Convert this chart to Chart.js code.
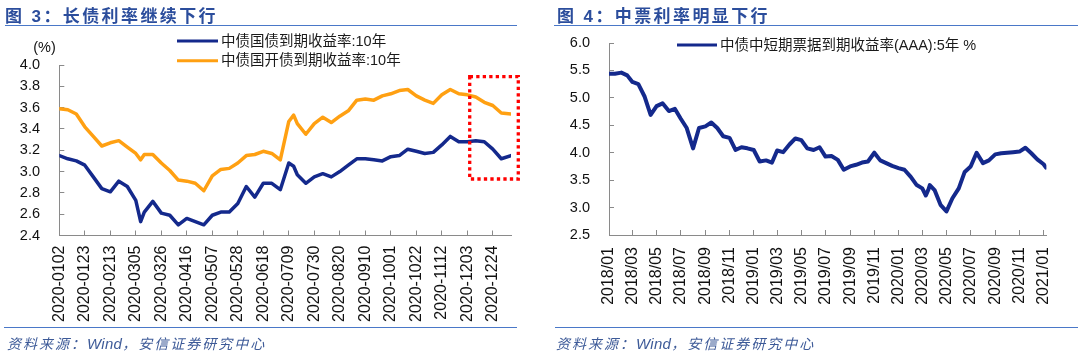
<!DOCTYPE html>
<html><head><meta charset="utf-8">
<script src="https://cdn.jsdelivr.net/npm/chart.js@4.4.1/dist/chart.umd.min.js"></script>
<style>
html,body{margin:0;padding:0;background:#fff;width:1080px;height:354px;overflow:hidden;}
canvas{position:absolute;top:0;}
.title{position:absolute;top:2px;font:bold 17px 'Liberation Sans','Noto Sans CJK SC',sans-serif;color:#2b4d9c;letter-spacing:2.4px;white-space:nowrap;}
.rule{position:absolute;height:0;border-top:1.6px solid #4a78c8;}
.src{position:absolute;top:333px;font:italic 14px 'Liberation Sans','Noto Sans CJK SC',sans-serif;color:#3d5a98;letter-spacing:2px;white-space:nowrap;}
.src span{letter-spacing:0.3px;font-size:15px;}
</style></head>
<body>
<canvas id="c1" width="540" height="354" style="left:0"></canvas>
<canvas id="c2" width="540" height="354" style="left:540px"></canvas>
<div class="title" style="left:5px">图 3：长债利率继续下行</div>
<div class="rule" style="left:5px;width:512px;top:25px"></div>
<div class="rule" style="left:4px;width:513px;top:327px"></div>
<div class="src" style="left:7px">资料来源：<span>Wind</span>，安信证券研究中心</div>
<div class="title" style="left:557px">图 4：中票利率明显下行</div>
<div class="rule" style="left:554px;width:524px;top:25px"></div>
<div class="rule" style="left:555px;width:523px;top:327px"></div>
<div class="src" style="left:556px">资料来源：<span>Wind</span>，安信证券研究中心</div>
<script>
// ---------- Figure 3 data ----------
const leftDates = ['2020-01-02','2020-01-09','2020-01-16','2020-01-23','2020-01-30','2020-02-06','2020-02-13','2020-02-20','2020-02-27','2020-03-05','2020-03-09','2020-03-12','2020-03-19','2020-03-26','2020-04-02','2020-04-09','2020-04-16','2020-04-23','2020-04-30','2020-05-07','2020-05-14','2020-05-21','2020-05-28','2020-06-04','2020-06-11','2020-06-18','2020-06-25','2020-07-02','2020-07-09','2020-07-13','2020-07-16','2020-07-23','2020-07-30','2020-08-06','2020-08-13','2020-08-20','2020-08-27','2020-09-03','2020-09-10','2020-09-17','2020-09-24','2020-10-01','2020-10-08','2020-10-15','2020-10-22','2020-10-29','2020-11-05','2020-11-12','2020-11-19','2020-11-26','2020-12-03','2020-12-10','2020-12-17','2020-12-24','2020-12-31','2021-01-08'];
const cgb10y = [3.15,3.12,3.10,3.06,2.95,2.84,2.81,2.91,2.86,2.73,2.53,2.62,2.72,2.61,2.59,2.50,2.56,2.53,2.50,2.59,2.62,2.62,2.70,2.86,2.76,2.89,2.89,2.83,3.08,3.05,2.97,2.89,2.95,2.98,2.95,3.00,3.06,3.12,3.12,3.11,3.10,3.14,3.15,3.21,3.19,3.17,3.18,3.25,3.33,3.28,3.28,3.29,3.28,3.21,3.12,3.15];
const cdb10y = [3.59,3.58,3.54,3.42,3.33,3.24,3.27,3.29,3.23,3.17,3.11,3.16,3.16,3.08,3.01,2.92,2.91,2.89,2.82,2.96,3.02,3.03,3.08,3.15,3.16,3.19,3.17,3.11,3.47,3.53,3.45,3.35,3.45,3.51,3.46,3.52,3.57,3.67,3.68,3.67,3.71,3.73,3.76,3.77,3.71,3.67,3.64,3.72,3.77,3.73,3.72,3.70,3.65,3.62,3.55,3.54];
const leftSeriesNames = ['中债国债到期收益率:10年','中债国开债到期收益率:10年'];
const leftTickLabels = ['2020-0102','2020-0123','2020-0213','2020-0305','2020-0326','2020-0416','2020-0507','2020-0528','2020-0618','2020-0709','2020-0730','2020-0820','2020-0910','2020-1001','2020-1022','2020-1112','2020-1203','2020-1224'];
const leftRange = ['2020-01-02','2021-01-08'];
const leftYTicks = [2.4,4.0,0.2];
const leftHighlight = ['2020-12-05','2021-01-14',3.89,2.93];

// ---------- Figure 4 data ----------
const rightDates = ['2018-01-02','2018-01-16','2018-02-01','2018-02-16','2018-03-01','2018-03-16','2018-04-01','2018-04-16','2018-05-01','2018-05-16','2018-06-01','2018-06-16','2018-07-01','2018-07-16','2018-08-01','2018-08-16','2018-09-01','2018-09-16','2018-10-01','2018-10-16','2018-11-01','2018-11-16','2018-12-01','2018-12-16','2019-01-01','2019-01-16','2019-02-01','2019-02-16','2019-03-01','2019-03-16','2019-04-01','2019-04-16','2019-05-01','2019-05-16','2019-06-01','2019-06-16','2019-07-01','2019-07-16','2019-08-01','2019-08-16','2019-09-01','2019-09-16','2019-10-01','2019-10-16','2019-11-01','2019-11-16','2019-12-01','2019-12-16','2020-01-01','2020-01-16','2020-02-01','2020-02-16','2020-03-01','2020-03-10','2020-03-16','2020-03-20','2020-04-01','2020-04-16','2020-05-01','2020-05-16','2020-06-01','2020-06-16','2020-07-01','2020-07-16','2020-08-01','2020-08-16','2020-09-01','2020-09-16','2020-10-01','2020-10-16','2020-11-01','2020-11-16','2020-12-01','2020-12-16','2021-01-01','2021-01-07'];
const mtnAAA5y = [5.44,5.44,5.46,5.41,5.29,5.25,5.02,4.69,4.85,4.90,4.76,4.80,4.62,4.45,4.08,4.45,4.48,4.55,4.45,4.30,4.27,4.05,4.10,4.08,4.05,3.84,3.86,3.82,4.04,4.01,4.15,4.26,4.23,4.08,4.05,4.10,3.93,3.94,3.87,3.69,3.75,3.78,3.82,3.84,4.00,3.86,3.81,3.76,3.72,3.69,3.56,3.41,3.35,3.22,3.32,3.41,3.32,3.05,2.93,3.17,3.35,3.65,3.75,4.00,3.81,3.86,3.97,3.99,4.00,4.01,4.02,4.09,3.99,3.88,3.79,3.73];
const rightSeriesNames = ['中债中短期票据到期收益率(AAA):5年 %'];
const rightTickLabels = ['2018/01','2018/03','2018/05','2018/07','2018/09','2018/11','2019/01','2019/03','2019/05','2019/07','2019/09','2019/11','2020/01','2020/03','2020/05','2020/07','2020/09','2020/11','2021/01'];
const rightRange = ['2018-01-01','2021-01-08'];
const rightYTicks = [2.5,6.0,0.5];

// ---------- helpers ----------
const FONT = "'Liberation Sans','Noto Sans CJK SC',sans-serif";
const AXIS = '#8a8a8a';
const BLUE = '#14298c';
const ORANGE = '#ffa012';
function dayNum(s){ const p = s.split('-'); return Date.UTC(+p[0], +p[1]-1, +p[2]) / 86400000; }
function leftTickDay(l){ return dayNum(l.slice(0,4) + '-' + l.slice(5,7) + '-' + l.slice(7,9)); }
function rightTickDay(l){ const p = l.split('/'); return dayNum(p[0] + '-' + p[1] + '-01'); }
function points(dates, vals){ return dates.map((d,i) => ({x: dayNum(d), y: vals[i]})); }

const overlay = {
  id: 'overlay',
  afterDraw(chart, args, o) {
    const ctx = chart.ctx;
    ctx.save();
    if (o.box) {
      const xs = chart.scales.x, ys = chart.scales.y;
      const x0 = xs.getPixelForValue(dayNum(o.box[0])), x1 = xs.getPixelForValue(dayNum(o.box[1]));
      const y0 = ys.getPixelForValue(o.box[2]), y1 = ys.getPixelForValue(o.box[3]);
      ctx.strokeStyle = '#ff0000'; ctx.lineWidth = 3.3; ctx.setLineDash([3.3, 3.2]);
      ctx.strokeRect(x0, y0, x1 - x0, y1 - y0);
      ctx.setLineDash([]);
    }
    if (o.unit) {
      ctx.font = '14.5px ' + FONT; ctx.fillStyle = '#111'; ctx.textAlign = 'center'; ctx.textBaseline = 'middle';
      ctx.fillText(o.unit[0], o.unit[1], o.unit[2]);
    }
    const L = o.legend;
    ctx.font = '14.5px ' + FONT; ctx.textAlign = 'left'; ctx.textBaseline = 'middle';
    chart.data.datasets.forEach((ds, i) => {
      const y = L.y + i * L.gap;
      ctx.strokeStyle = ds.borderColor; ctx.lineWidth = 3; ctx.lineCap = 'butt';
      ctx.beginPath(); ctx.moveTo(L.x, y); ctx.lineTo(L.x + L.w, y); ctx.stroke();
      ctx.fillStyle = '#1a1a1a';
      ctx.fillText(ds.label, L.x + L.w + 3, y + 0.5);
    });
    ctx.restore();
  }
};

function makeChart(id, datasets, range, tickLabels, toDay, yt, pad, yWidth, xHeight, yPad, xPad, ov) {
  return new Chart(document.getElementById(id), {
    type: 'line',
    data: { datasets },
    plugins: [overlay],
    options: {
      responsive: false, animation: false, events: [],
      layout: { padding: pad },
      elements: { point: { radius: 0 }, line: { tension: 0, borderJoinStyle: 'round', borderCapStyle: 'round' } },
      plugins: { legend: { display: false }, tooltip: { enabled: false }, overlay: ov },
      scales: {
        x: {
          type: 'linear', min: dayNum(range[0]), max: dayNum(range[1]),
          afterBuildTicks: s => { s.ticks = tickLabels.map(l => ({ value: toDay(l) })); },
          ticks: { autoSkip: false, minRotation: 90, maxRotation: 90, padding: xPad, color: '#111',
                   font: { size: 16, family: FONT }, callback: (v, i) => tickLabels[i] },
          grid: { drawOnChartArea: false, drawTicks: true, tickLength: -5, color: AXIS, lineWidth: 1 },
          border: { color: AXIS, width: 1 },
          afterFit: s => { s.height = xHeight; }
        },
        y: {
          type: 'linear', min: yt[0], max: yt[1],
          ticks: { stepSize: yt[2], padding: yPad, color: '#111', font: { size: 14.5, family: FONT },
                   callback: v => Number(v).toFixed(1) },
          grid: { drawOnChartArea: false, drawTicks: true, tickLength: -5, color: AXIS, lineWidth: 1 },
          border: { color: AXIS, width: 1 },
          afterFit: s => { s.width = yWidth; }
        }
      }
    }
  });
}

makeChart('c1', [
    { label: leftSeriesNames[0], data: points(leftDates, cgb10y), borderColor: BLUE, borderWidth: 3.5 },
    { label: leftSeriesNames[1], data: points(leftDates, cdb10y), borderColor: ORANGE, borderWidth: 3.5 }
  ], leftRange, leftTickLabels, leftTickDay, leftYTicks,
  { left: 0, top: 65, right: 29, bottom: 0 }, 59.3, 118.5, 24.3, 15,
  { legend: { x: 177, y: 41, gap: 19.7, w: 41 }, unit: ['(%)', 44.5, 48], box: leftHighlight });

makeChart('c2', [
    { label: rightSeriesNames[0], data: points(rightDates, mtnAAA5y), borderColor: BLUE, borderWidth: 4 }
  ], rightRange, rightTickLabels, rightTickDay, rightYTicks,
  { left: 0, top: 43, right: 28, bottom: 0 }, 69, 119, 24, 17,
  { legend: { x: 137, y: 45, gap: 0, w: 40 } });
</script>
</body></html>
